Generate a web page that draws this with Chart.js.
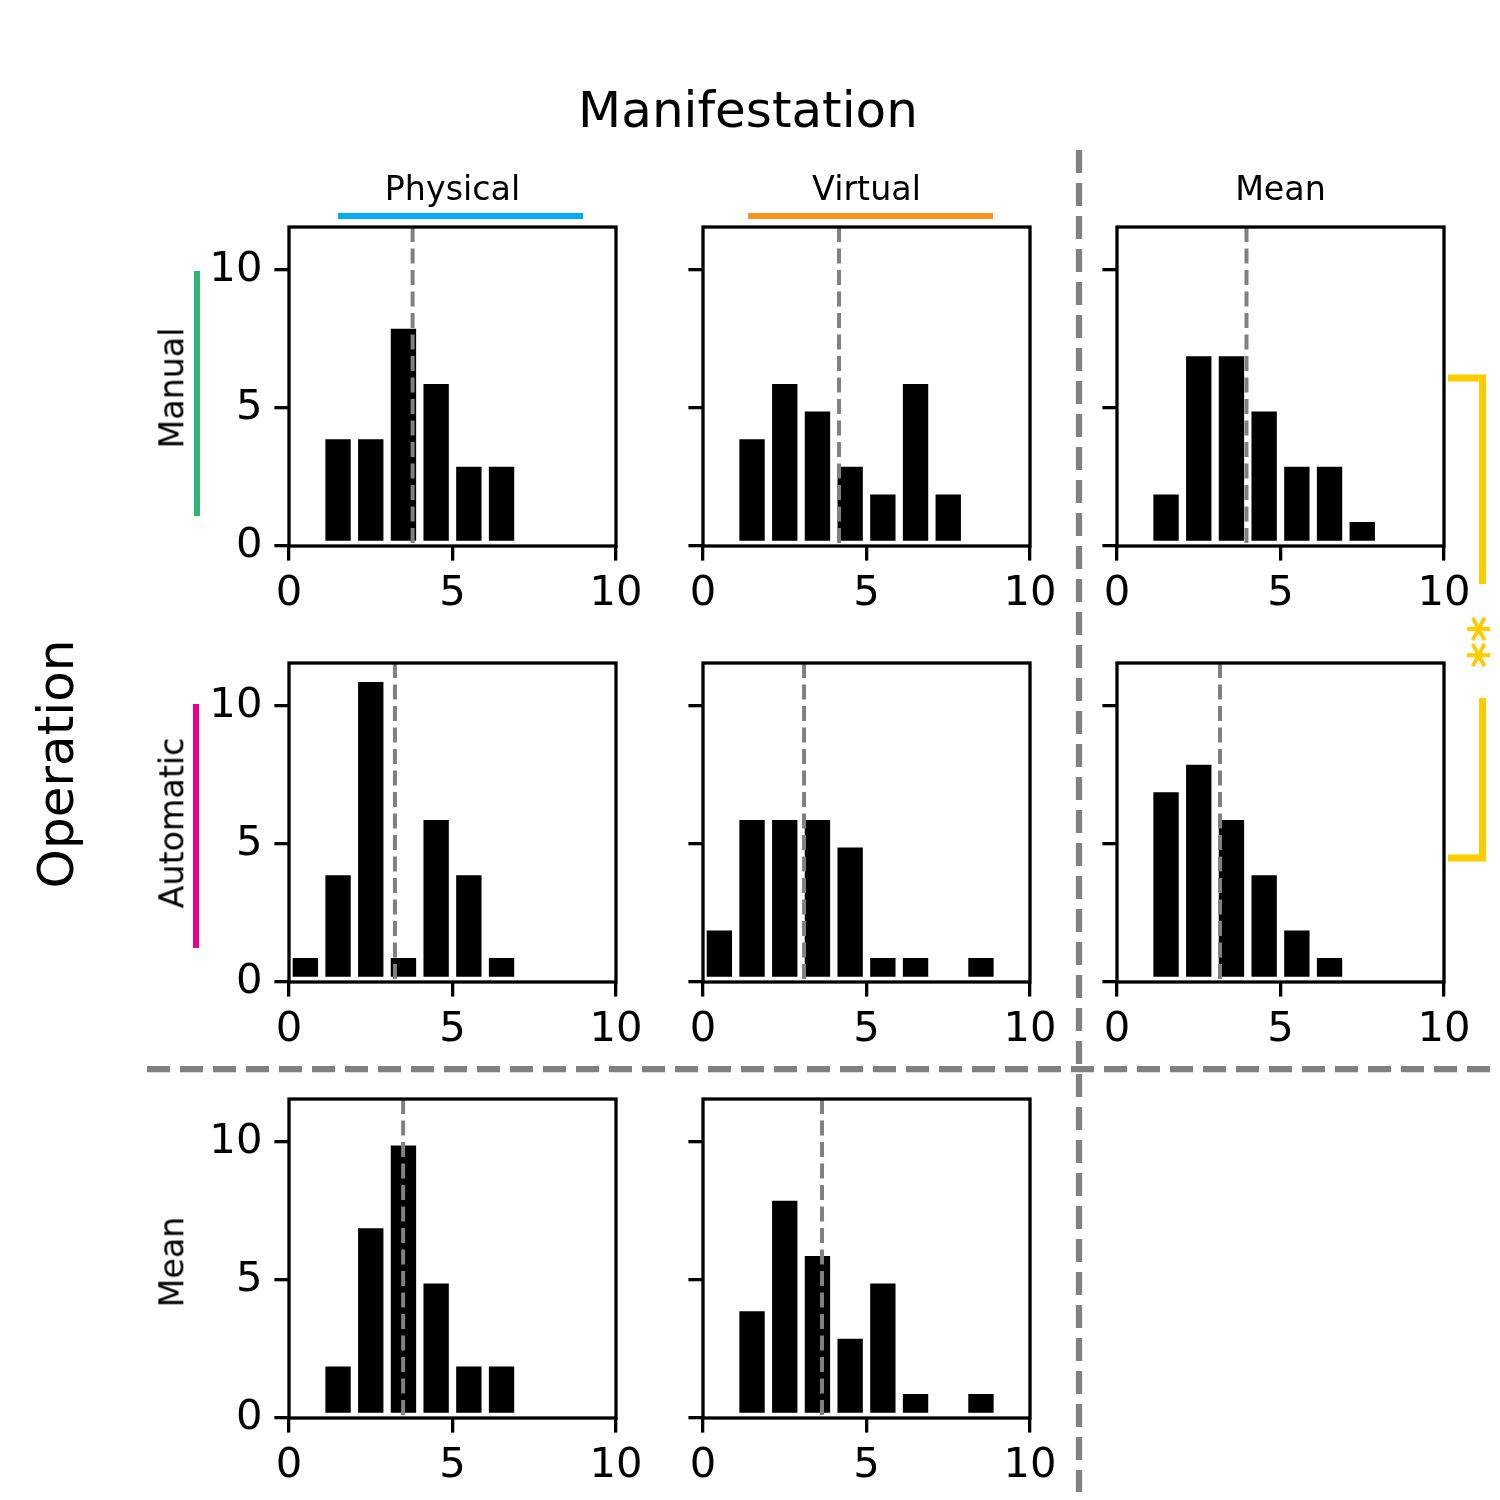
<!DOCTYPE html>
<html>
<head>
<meta charset="utf-8">
<script src="https://cdn.jsdelivr.net/npm/chart.js@4.4.1/dist/chart.umd.min.js"></script>
<style>
  body { margin: 0; background: #fff; }
  #page { position: relative; width: 1500px; height: 1500px; overflow: hidden; background: #fff; }
  #page canvas { position: absolute; }
  .lbl { position: absolute; font-family: 'DejaVu Sans', sans-serif; line-height: 1; white-space: nowrap; color: #000; }
  svg { position: absolute; left: 0; top: 0; }
</style>
</head>
<body>
<div id="page">
  <svg id="deco" width="1500" height="1500"></svg>
</div>
<script>
// bins of width 1 from 0 to 10
const binLabels = ['0-1', '1-2', '2-3', '3-4', '4-5', '5-6', '6-7', '7-8', '8-9', '9-10'];
const xTickValues = [0, 5, 10];
const yTickValues = [0, 5, 10];

const columnNames = ['Physical', 'Virtual', 'Mean'];
const rowNames = ['Manual', 'Automatic', 'Mean'];
const groupTitle = 'Manifestation';
const rowTitle = 'Operation';
const significance = '**';

// counts per bin
const physicalManual = [0, 4, 4, 8, 6, 3, 3, 0, 0, 0];
const virtualManual = [0, 4, 6, 5, 3, 2, 6, 2, 0, 0];
const meanManual = [0, 2, 7, 7, 5, 3, 3, 1, 0, 0];
const physicalAutomatic = [1, 4, 11, 1, 6, 4, 1, 0, 0, 0];
const virtualAutomatic = [2, 6, 6, 6, 5, 1, 1, 0, 1, 0];
const meanAutomatic = [0, 7, 8, 6, 4, 2, 1, 0, 0, 0];
const physicalMean = [0, 2, 7, 10, 5, 2, 2, 0, 0, 0];
const virtualMean = [0, 4, 8, 6, 3, 5, 1, 0, 1, 0];

// mean marker (dashed line) per panel
const manualMeans = [3.78, 4.16, 3.96];
const automaticMeans = [3.24, 3.09, 3.15];
const meanRowMeans = [3.49, 3.64];

const panels = [
  [physicalManual, virtualManual, meanManual],
  [physicalAutomatic, virtualAutomatic, meanAutomatic],
  [physicalMean, virtualMean]
];
const panelMeans = [manualMeans, automaticMeans, meanRowMeans];

// layout (pixels)
const colLeft = [289, 703, 1117];
const rowTop = [226, 662, 1098];
const plotW = 327, plotH = 320;
// chart.js keeps ~36px above the plot area for the top tick label
const padL = 110, padT = 36, padR = 40, padB = 80;

const allCounts = panels.flat().flat();
const yMax = Math.max(...allCounts) * 1.05;

const tickFont = { family: "'DejaVu Sans', sans-serif", size: 41.7 };

const framePlugin = {
  id: 'frame',
  afterDraw(chart) {
    const ctx = chart.ctx;
    const a = chart.chartArea;
    const xs = chart.scales.xTicks;
    const m = chart.options.plugins.frame.mean;
    const px = xs.getPixelForValue(m);
    ctx.save();
    ctx.strokeStyle = '#808080';
    ctx.lineWidth = 4;
    ctx.setLineDash([15, 6.5]);
    ctx.beginPath();
    ctx.moveTo(px, a.top);
    ctx.lineTo(px, a.bottom);
    ctx.stroke();
    ctx.setLineDash([]);
    ctx.strokeStyle = '#000';
    ctx.lineWidth = 3.3;
    ctx.strokeRect(a.left, a.top, a.right - a.left, a.bottom - a.top);
    ctx.restore();
  }
};

function makePanel(counts, mean, left, top, showYLabels) {
  const canvas = document.createElement('canvas');
  const w = padL + plotW + padR, h = padT + plotH + padB;
  canvas.width = w;
  canvas.height = h;
  canvas.style.left = (left - padL) + 'px';
  canvas.style.top = (top - padT) + 'px';
  canvas.style.width = w + 'px';
  canvas.style.height = h + 'px';
  document.getElementById('page').appendChild(canvas);

  new Chart(canvas, {
    type: 'bar',
    data: {
      labels: binLabels,
      datasets: [{
        data: counts,
        backgroundColor: '#000',
        borderColor: '#fff',
        borderWidth: 4,
        borderSkipped: false,
        barPercentage: 1,
        categoryPercentage: 1,
        xAxisID: 'x',
        yAxisID: 'y'
      }]
    },
    options: {
      responsive: false,
      animation: false,
      devicePixelRatio: 1,
      layout: { autoPadding: false, padding: { left: 0, top: 0, right: padR, bottom: 0 } },
      plugins: {
        legend: { display: false },
        tooltip: { enabled: false },
        frame: { mean: mean }
      },
      scales: {
        x: { type: 'category', display: false, offset: true },
        xTicks: {
          type: 'linear',
          position: 'bottom',
          min: 0,
          max: 10,
          offset: false,
          afterBuildTicks: s => { s.ticks = xTickValues.map(v => ({ value: v })); },
          afterFit: s => { s.height = padB; },
          ticks: { font: tickFont, color: '#000', padding: 9, maxRotation: 0 },
          grid: { offset: false, drawOnChartArea: false, drawTicks: true, tickLength: 14.6, lineWidth: 3.3, color: '#000' },
          border: { display: false }
        },
        y: {
          type: 'linear',
          min: 0,
          max: yMax,
          afterBuildTicks: s => { s.ticks = yTickValues.map(v => ({ value: v })); },
          afterFit: s => { s.width = padL; },
          ticks: { font: tickFont, color: showYLabels ? '#000' : 'rgba(0,0,0,0)', padding: 12 },
          grid: { drawOnChartArea: false, drawTicks: true, tickLength: 14.6, lineWidth: 3.3, color: '#000' },
          border: { display: false }
        }
      }
    },
    plugins: [framePlugin]
  });
}

panels.forEach(function(row, r) {
  row.forEach(function(counts, c) {
    makePanel(counts, panelMeans[r][c], colLeft[c], rowTop[r], c === 0);
  });
});

// text labels
function addLabel(text, cx, cy, size, rotate, color, weight) {
  const d = document.createElement('div');
  d.className = 'lbl';
  d.textContent = text;
  d.style.left = cx + 'px';
  d.style.top = cy + 'px';
  d.style.fontSize = size + 'px';
  if (color) d.style.color = color;
  if (weight) d.style.fontWeight = weight;
  d.style.transform = 'translate(-50%, -50%)' + (rotate ? ' rotate(' + rotate + 'deg)' : '');
  document.getElementById('page').appendChild(d);
}

addLabel(groupTitle, 748, 110, 50, 0);
addLabel(rowTitle, 56, 764, 50, -90);
columnNames.forEach(function(name, c) {
  addLabel(name, colLeft[c] + plotW / 2, 189, 33.3, 0);
});
const rowLabelY = [388, 823, 1262];
rowNames.forEach(function(name, r) {
  addLabel(name, 172, rowLabelY[r], 33.3, -90);
});
addLabel(significance, 1470, 642, 50, 90, '#FFCC00', 'bold');

// lines: separators, colour keys, significance bracket
const svgNS = 'http://www.w3.org/2000/svg';
const deco = document.getElementById('deco');
function addPath(d, color, width, dash) {
  const p = document.createElementNS(svgNS, 'path');
  p.setAttribute('d', d);
  p.setAttribute('fill', 'none');
  p.setAttribute('stroke', color);
  p.setAttribute('stroke-width', width);
  if (dash) p.setAttribute('stroke-dasharray', dash);
  deco.appendChild(p);
}
addPath('M1079 150 L1079 1492', '#808080', 6.25, '23 10');
addPath('M147 1069 L1497 1069', '#808080', 6.25, '23 10');
addPath('M338 216 L583 216', '#00AEEF', 6);
addPath('M748 216 L993 216', '#F7941D', 6);
addPath('M197 271 L197 516', '#2DB87A', 6);
addPath('M196 704 L196 948', '#EC008C', 6);
addPath('M1448 378 L1482.5 378 L1482.5 584', '#FFCC00', 7);
addPath('M1482.5 698 L1482.5 858 L1448 858', '#FFCC00', 7);
</script>
</body>
</html>
